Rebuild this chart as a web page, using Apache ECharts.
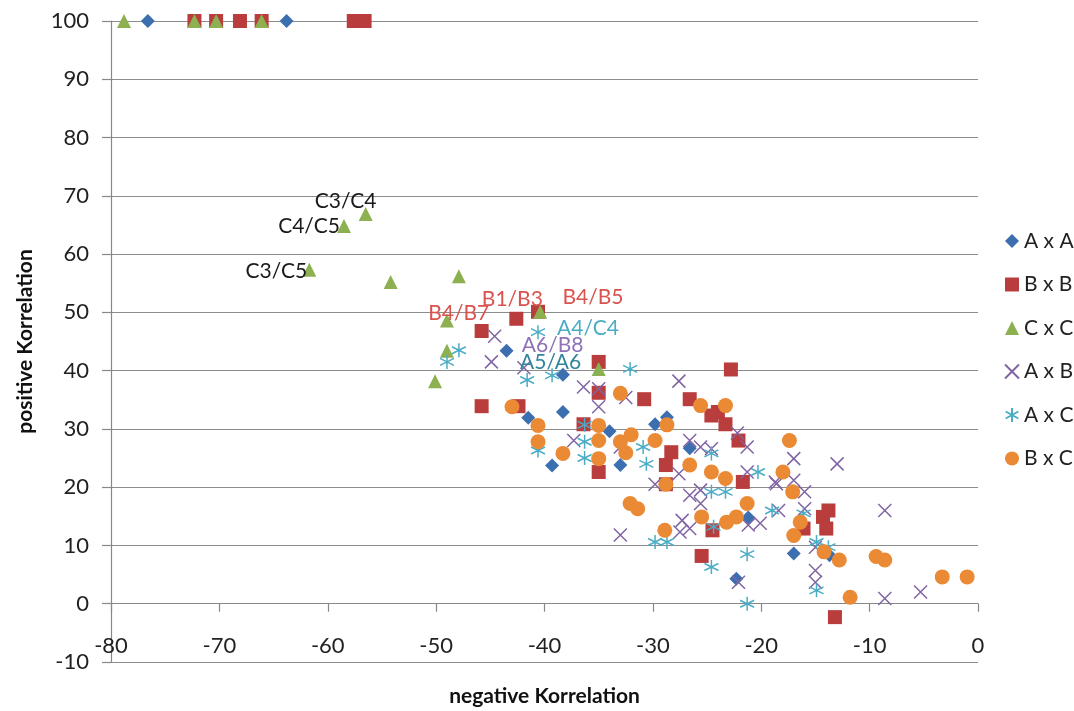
<!DOCTYPE html>
<html>
<head>
<meta charset="utf-8">
<script src="https://cdn.jsdelivr.net/npm/echarts@6/dist/echarts.min.js"></script>
<style>
  html, body { margin: 0; padding: 0; background: #fff; }
  #chart { width: 1074px; height: 711px; }
</style>
</head>
<body>
<div id="chart"></div>
<script>
// data: [negative Korrelation, positive Korrelation]
var seriesNames = ['A x A', 'B x B', 'C x C', 'A x B', 'A x C', 'B x C'];

var aXa = [[-76.6,100],[-63.8,100],[-43.5,43.4],[-38.3,39.3],[-38.3,32.9],[-41.5,31.9],[-39.3,23.7],
  [-34.0,29.6],[-33.0,23.8],[-29.8,30.8],[-28.7,32.0],[-26.6,26.7],[-21.2,14.8],[-17.0,8.6],[-22.3,4.3],[-13.7,8.3]];

var bXb = [[-72.3,100],[-70.3,100],[-68.1,100],[-66.1,100],[-57.6,100],[-56.6,100],[-45.8,46.8],[-42.6,48.9],
  [-40.6,50.1],[-45.8,33.9],[-42.4,33.9],[-35.0,41.5],[-35.0,36.2],[-30.8,35.1],[-26.6,35.1],[-36.4,30.8],
  [-35.0,22.6],[-22.8,40.2],[-24.6,32.3],[-24.0,32.9],[-23.3,30.8],[-22.1,28.0],[-28.3,26.0],[-28.8,23.8],
  [-28.8,20.5],[-21.7,20.9],[-24.5,12.6],[-13.8,16.0],[-14.3,14.9],[-14.0,12.9],[-25.5,8.2],[-16.1,12.9],[-13.2,-2.3]];

var cXc = [[-78.8,100],[-72.3,100],[-70.3,100],[-66.1,100],[-56.5,66.9],[-58.5,64.8],[-61.7,57.3],
  [-54.2,55.2],[-47.9,56.2],[-49.0,48.6],[-49.0,43.4],[-50.1,38.2],[-40.4,50.1],[-35.0,40.3]];

var aXb = [[-44.6,45.9],[-44.9,41.5],[-41.9,40.5],[-36.4,37.2],[-35.0,36.9],[-35.0,33.8],[-27.6,38.2],
  [-32.5,35.4],[-37.3,28.0],[-33.0,26.9],[-26.6,28.0],[-25.6,26.9],[-24.6,26.6],[-21.3,26.9],[-22.2,29.3],
  [-17.0,24.9],[-13.0,24.0],[-17.0,21.2],[-29.8,20.5],[-27.6,22.3],[-26.6,18.6],[-25.6,17.2],[-27.3,14.3],
  [-27.5,12.3],[-33.0,11.8],[-21.3,22.6],[-18.6,20.6],[-16.0,19.2],[-18.4,16.0],[-16.0,16.3],[-8.6,16.0],
  [-20.1,13.8],[-21.2,13.5],[-15.0,9.7],[-15.0,5.7],[-15.0,3.7],[-22.1,3.7],[-8.6,0.9],[-5.3,2.0],
  [-25.6,19.5],[-26.6,12.9],[-18.7,20.9]];

var aXc = [[-47.9,43.5],[-49.0,41.5],[-40.6,46.6],[-41.6,38.4],[-39.3,39.2],[-32.1,40.3],[-36.3,30.7],
  [-36.3,27.8],[-36.3,25.0],[-40.6,26.3],[-30.9,26.9],[-30.6,24.0],[-24.6,25.8],[-24.6,19.2],[-23.3,19.2],
  [-20.3,22.6],[-19.0,16.0],[-24.4,13.2],[-29.8,10.6],[-28.7,10.6],[-21.3,8.5],[-24.6,6.3],[-21.3,0.0],
  [-16.1,15.5],[-14.9,10.6],[-13.8,9.7],[-14.9,2.3]];

var bXc = [[-43.0,33.8],[-40.6,30.6],[-40.6,27.8],[-38.3,25.8],[-35.0,30.6],[-35.0,28.0],[-35.0,24.9],
  [-33.0,36.1],[-32.0,29.0],[-33.0,27.8],[-32.5,25.9],[-28.7,30.7],[-29.8,28.0],[-26.6,23.8],[-25.6,34.0],
  [-23.3,34.0],[-28.8,20.5],[-24.6,22.6],[-23.3,21.5],[-21.3,17.2],[-17.4,28.0],[-18.0,22.6],[-17.1,19.2],
  [-32.1,17.2],[-31.4,16.3],[-25.5,14.9],[-23.2,14.0],[-22.3,14.9],[-28.9,12.6],[-16.4,14.0],[-17.0,11.7],
  [-14.2,8.9],[-12.8,7.5],[-9.4,8.1],[-8.6,7.5],[-3.3,4.6],[-1.0,4.6],[-11.8,1.1]];

// which point carries which text label
var pointLabels = [
  { series: 'C x C', point: 4, text: 'C3/C4' },
  { series: 'C x C', point: 5, text: 'C4/C5' },
  { series: 'C x C', point: 6, text: 'C3/C5' },
  { series: 'B x B', point: 6, text: 'B4/B7' },
  { series: 'B x B', point: 7, text: 'B1/B3' },
  { series: 'B x B', point: 8, text: 'B4/B5' },
  { series: 'A x C', point: 2, text: 'A4/C4' },
  { series: 'A x B', point: 0, text: 'A6/B8' },
  { series: 'A x A', point: 2, text: 'A5/A6' }
];

var xTicks = { min: -80, max: 0, step: 10 };
var yTicks = { min: -10, max: 100, step: 10 };

// styling
var FONT = 'Lato';
var GRID = { left: 111, right: 96, top: 21, bottom: 49 };
var labelStyle = {
  'C3/C4': { offset: [-20, -13], color: '#1a1a1a' },
  'C4/C5': { offset: [-35, 0], color: '#1a1a1a' },
  'C3/C5': { offset: [-33, 1], color: '#1a1a1a' },
  'B4/B7': { offset: [-23, -18], color: '#D9534F' },
  'B1/B3': { offset: [-4, -20], color: '#D9534F' },
  'B4/B5': { offset: [55, -15], color: '#D9534F' },
  'A4/C4': { offset: [50, -4], color: '#4BACC6' },
  'A6/B8': { offset: [58, 9], color: '#8E72B8' },
  'A5/A6': { offset: [44, 11], color: '#31859C' }
};
var looks = {
  'A x A': { data: aXa, symbol: 'diamond', size: 14, color: '#3C6FB0' },
  'B x B': { data: bXb, symbol: 'rect', size: 14, color: '#B83D3C' },
  'C x C': { data: cXc, symbol: 'triangle', size: 14, color: '#8DB050' },
  'A x B': { data: aXb, symbol: 'path://M0,0L10,10M0,10L10,0', size: 13, color: '#8064A2', line: true },
  'A x C': { data: aXc, symbol: 'path://M5,0L5,10M0.5,2.5L9.5,7.5M0.5,7.5L9.5,2.5', size: 14, color: '#4BACC6', line: true },
  'B x C': { data: bXc, symbol: 'circle', size: 15, color: '#EB8A35' }
};

var series = seriesNames.map(function (name) {
  var l = looks[name];
  var data = l.data.map(function (p, i) {
    var item = { value: p };
    pointLabels.forEach(function (lb) {
      if (lb.series === name && lb.point === i) {
        var st = labelStyle[lb.text];
        item.label = {
          show: true, position: 'inside', offset: st.offset, formatter: lb.text,
          color: st.color, fontSize: 21, fontFamily: FONT
        };
      }
    });
    return item;
  });
  return {
    name: name,
    type: 'scatter',
    symbol: l.symbol,
    symbolSize: l.size,
    clip: false,
    data: data,
    itemStyle: l.line
      ? { color: l.color, borderColor: l.color, borderWidth: 1.5, opacity: 1 }
      : { color: l.color, opacity: 1 },
    emphasis: { disabled: true }
  };
});

// the x axis sits on y = 0, like in the spreadsheet chart
var plotHeight = 711 - GRID.top - GRID.bottom;
var xAxisShift = -plotHeight * (0 - yTicks.min) / (yTicks.max - yTicks.min);

var chart = echarts.init(document.getElementById('chart'));
chart.setOption({
  animation: false,
  backgroundColor: '#ffffff',
  textStyle: { fontFamily: FONT },
  grid: { left: GRID.left, right: GRID.right, top: GRID.top, bottom: GRID.bottom, containLabel: false, outerBoundsMode: 'none' },
  legend: {
    orient: 'vertical',
    left: 999, top: 225,
    itemWidth: 14, itemHeight: 14, itemGap: 21.5,
    data: seriesNames,
    textStyle: { fontSize: 21, fontFamily: FONT, color: '#222', lineHeight: 22 }
  },
  xAxis: {
    type: 'value',
    min: xTicks.min, max: xTicks.max, interval: xTicks.step,
    offset: xAxisShift,
    name: 'negative Korrelation',
    nameLocation: 'middle',
    nameGap: 82,
    nameTextStyle: { fontSize: 21, fontWeight: 'bold', color: '#111', fontFamily: FONT },
    axisLine: { onZero: false, lineStyle: { color: '#888', width: 1.2 } },
    axisTick: { show: true, length: 8, lineStyle: { color: '#888', width: 1.2 } },
    splitLine: { show: false },
    axisLabel: { fontSize: 22, color: '#222', margin: 31, fontFamily: FONT }
  },
  yAxis: {
    type: 'value',
    min: yTicks.min, max: yTicks.max, interval: yTicks.step,
    name: 'positive Korrelation',
    nameLocation: 'middle',
    nameGap: 75,
    nameTextStyle: { fontSize: 21, fontWeight: 'bold', color: '#111', fontFamily: FONT },
    axisLine: { show: true, onZero: false, lineStyle: { color: '#888', width: 1.2 } },
    axisTick: { show: true, length: 9, lineStyle: { color: '#888', width: 1.2 } },
    splitLine: { show: true, lineStyle: { color: '#8c8c8c', width: 1.2 } },
    axisLabel: { fontSize: 22, color: '#222', margin: 22, fontFamily: FONT }
  },
  series: series
});
</script>
</body>
</html>
